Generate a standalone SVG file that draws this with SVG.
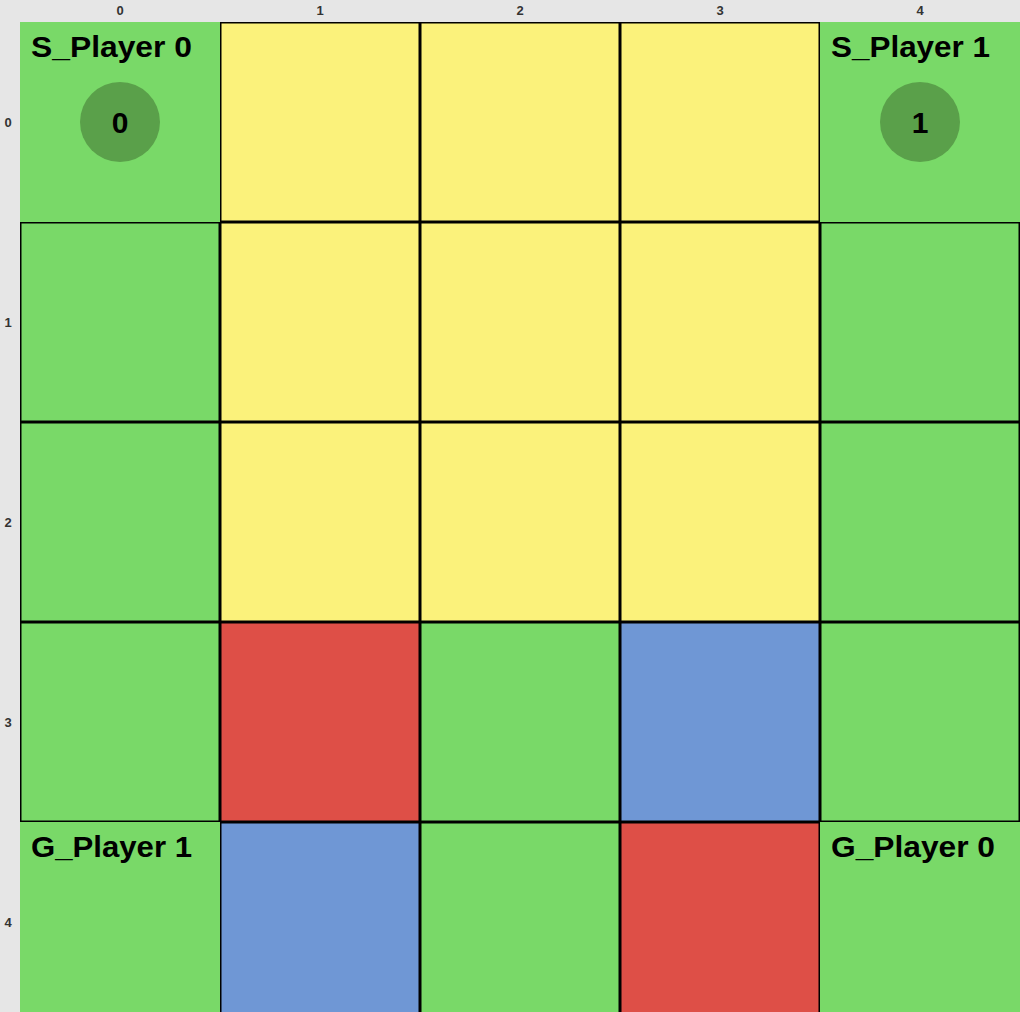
<svg xmlns="http://www.w3.org/2000/svg" width="1020" height="1012" viewBox="0 0 1020 1012">
<style>
.g{fill:#79d968}
.y{fill:#fbf27b}
.r{fill:#de4f47}
.b{fill:#6f97d5}
.cell{stroke:#000;stroke-width:1.5}
.lbl{font-family:"Liberation Sans",Arial,sans-serif;font-weight:bold;font-size:30px;fill:#000}
.ax{font-family:"Liberation Sans",Arial,sans-serif;font-weight:bold;font-size:13px;fill:#333;text-anchor:middle}
.tok{fill:#5aa04a}
.tokt{font-family:"Liberation Sans",Arial,sans-serif;font-weight:bold;font-size:30px;fill:#000;text-anchor:middle}
</style>
<rect x="0" y="0" width="1020" height="1012" fill="#e6e6e6"/>
<g id="axis">
<text class="ax" x="120" y="15">0</text>
<text class="ax" x="320" y="15">1</text>
<text class="ax" x="520" y="15">2</text>
<text class="ax" x="720" y="15">3</text>
<text class="ax" x="920" y="15">4</text>
<text class="ax" x="8" y="127">0</text>
<text class="ax" x="8" y="327">1</text>
<text class="ax" x="8" y="527">2</text>
<text class="ax" x="8" y="727">3</text>
<text class="ax" x="8" y="927">4</text>
</g>
<g id="cell-0-0"><rect class="g" x="20" y="22" width="200" height="200"/><text class="lbl" x="31" y="57" textLength="161" lengthAdjust="spacingAndGlyphs">S_Player 0</text></g>
<g id="cell-0-1"><rect class="y cell" x="220.75" y="22.75" width="198.5" height="198.5"/></g>
<g id="cell-0-2"><rect class="y cell" x="420.75" y="22.75" width="198.5" height="198.5"/></g>
<g id="cell-0-3"><rect class="y cell" x="620.75" y="22.75" width="198.5" height="198.5"/></g>
<g id="cell-0-4"><rect class="g" x="820" y="22" width="200" height="200"/><text class="lbl" x="831" y="57" textLength="159" lengthAdjust="spacingAndGlyphs">S_Player 1</text></g>
<g id="cell-1-0"><rect class="g cell" x="20.75" y="222.75" width="198.5" height="198.5"/></g>
<g id="cell-1-1"><rect class="y cell" x="220.75" y="222.75" width="198.5" height="198.5"/></g>
<g id="cell-1-2"><rect class="y cell" x="420.75" y="222.75" width="198.5" height="198.5"/></g>
<g id="cell-1-3"><rect class="y cell" x="620.75" y="222.75" width="198.5" height="198.5"/></g>
<g id="cell-1-4"><rect class="g cell" x="820.75" y="222.75" width="198.5" height="198.5"/></g>
<g id="cell-2-0"><rect class="g cell" x="20.75" y="422.75" width="198.5" height="198.5"/></g>
<g id="cell-2-1"><rect class="y cell" x="220.75" y="422.75" width="198.5" height="198.5"/></g>
<g id="cell-2-2"><rect class="y cell" x="420.75" y="422.75" width="198.5" height="198.5"/></g>
<g id="cell-2-3"><rect class="y cell" x="620.75" y="422.75" width="198.5" height="198.5"/></g>
<g id="cell-2-4"><rect class="g cell" x="820.75" y="422.75" width="198.5" height="198.5"/></g>
<g id="cell-3-0"><rect class="g cell" x="20.75" y="622.75" width="198.5" height="198.5"/></g>
<g id="cell-3-1"><rect class="r cell" x="220.75" y="622.75" width="198.5" height="198.5"/></g>
<g id="cell-3-2"><rect class="g cell" x="420.75" y="622.75" width="198.5" height="198.5"/></g>
<g id="cell-3-3"><rect class="b cell" x="620.75" y="622.75" width="198.5" height="198.5"/></g>
<g id="cell-3-4"><rect class="g cell" x="820.75" y="622.75" width="198.5" height="198.5"/></g>
<g id="cell-4-0"><rect class="g" x="20" y="822" width="200" height="200"/><text class="lbl" x="31" y="857" textLength="161" lengthAdjust="spacingAndGlyphs">G_Player 1</text></g>
<g id="cell-4-1"><rect class="b cell" x="220.75" y="822.75" width="198.5" height="198.5"/></g>
<g id="cell-4-2"><rect class="g cell" x="420.75" y="822.75" width="198.5" height="198.5"/></g>
<g id="cell-4-3"><rect class="r cell" x="620.75" y="822.75" width="198.5" height="198.5"/></g>
<g id="cell-4-4"><rect class="g" x="820" y="822" width="200" height="200"/><text class="lbl" x="831" y="857" textLength="164" lengthAdjust="spacingAndGlyphs">G_Player 0</text></g>
<g id="token-0"><circle class="tok" cx="120" cy="122" r="40"/><text class="tokt" x="120" y="133">0</text></g>
<g id="token-1"><circle class="tok" cx="920" cy="122" r="40"/><text class="tokt" x="920" y="133">1</text></g>
</svg>
